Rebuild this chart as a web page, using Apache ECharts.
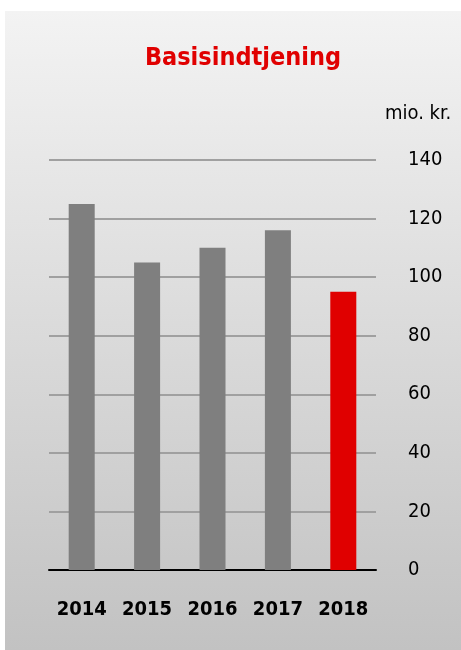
<!DOCTYPE html>
<html>
<head>
<meta charset="utf-8">
<style>
  html, body { margin: 0; padding: 0; background: #ffffff; }
  #chart { width: 461px; height: 650px; }
</style>
<script src="https://cdn.jsdelivr.net/npm/echarts@6/dist/echarts.min.js"></script>
</head>
<body>
<div id="chart"></div>
<script>
// Basisindtjening, mio. kr. per year
const years = ['2014', '2015', '2016', '2017', '2018'];
const earnings = [125, 105, 110, 116, 95];
const barColors = ['#7f7f7f', '#7f7f7f', '#7f7f7f', '#7f7f7f', '#e00000'];
const yTicks = [0, 20, 40, 60, 80, 100, 120, 140];

const narrow = "'Liberation Sans Narrow', 'DejaVu Sans Condensed', 'Roboto', sans-serif";

const chart = echarts.init(document.getElementById('chart'));
chart.setOption({
  animation: false,
  graphic: [{
    type: 'rect',
    z: -10,
    shape: { x: 5, y: 11, width: 456, height: 639 },
    style: {
      fill: new echarts.graphic.LinearGradient(0, 0, 0, 1, [
        { offset: 0, color: '#f3f3f3' },
        { offset: 1, color: '#c2c2c2' }
      ])
    }
  }],
  title: {
    text: 'Basisindtjening',
    left: 238,
    top: 41,
    textAlign: 'center',
    textStyle: { color: '#e00000', fontFamily: narrow, fontWeight: 'bold', fontSize: 25 }
  },
  grid: { left: 49, right: 85, top: 160, bottom: 80 },
  xAxis: {
    type: 'category',
    data: years,
    axisLine: { lineStyle: { color: '#000000', width: 2 } },
    axisTick: { show: false },
    axisLabel: { interval: 0, color: '#000000', fontFamily: narrow, fontWeight: 'bold', fontSize: 20, margin: 30 }
  },
  yAxis: {
    type: 'value',
    position: 'right',
    min: yTicks[0],
    max: yTicks[yTicks.length - 1],
    interval: 20,
    name: 'mio. kr.',
    nameLocation: 'end',
    nameGap: 36,
    nameTextStyle: { color: '#000000', fontFamily: narrow, fontSize: 20, align: 'left', padding: [0, 0, 0, 9] },
    axisLine: { show: false },
    axisTick: { show: false },
    axisLabel: { color: '#000000', fontFamily: narrow, fontSize: 20, align: 'left', margin: 32 },
    splitLine: { lineStyle: { color: '#a0a0a0', width: 2 } }
  },
  series: [{
    type: 'bar',
    barWidth: 26,
    data: earnings.map((v, i) => ({ value: v, itemStyle: { color: barColors[i] } }))
  }]
});
</script>
</body>
</html>
